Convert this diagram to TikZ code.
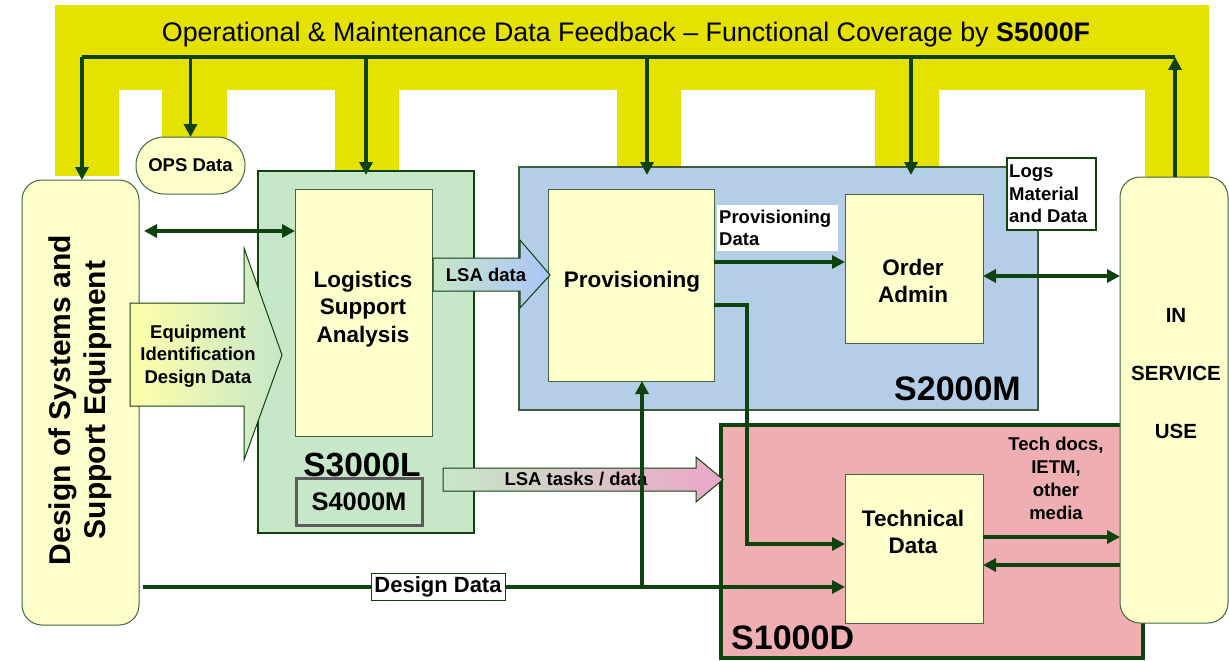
\documentclass[tikz,border=0pt]{standalone}
\usepackage{fontspec}
\setmainfont{Liberation Sans}
\usetikzlibrary{arrows.meta,calc}
\definecolor{band}{RGB}{229,225,0}
\definecolor{dg}{RGB}{14,66,14}
\definecolor{ltyel}{RGB}{255,255,204}
\definecolor{grn}{RGB}{198,231,200}
\definecolor{blu}{RGB}{181,206,232}
\definecolor{pnk}{RGB}{239,174,178}
\definecolor{arrblue}{RGB}{172,196,250}
\definecolor{arrpink}{RGB}{236,166,200}
\definecolor{yelhi}{RGB}{255,255,170}
\definecolor{boxgray}{RGB}{90,90,90}
\newcommand\fsz[2]{\fontsize{#1}{#2}\selectfont}
\begin{document}
\begin{tikzpicture}[x=1pt,y=-1pt,
  conn/.style={draw=dg, line width=3.5pt},
  arr/.style={conn, -{Triangle[length=13pt,width=13pt]}},
  darr/.style={conn, {Triangle[length=13pt,width=13pt]}-{Triangle[length=13pt,width=13pt]}},
  blk/.style={anchor=north west, inner sep=0pt, outer sep=0pt},
  ybox/.style={blk, draw=dg!80, line width=1pt, fill=ltyel},
  lbl/.style={font=\bfseries\fsz{18.5}{22.5}, align=center, inner sep=0pt},
  big/.style={font=\bfseries\fsz{22.5}{27.5}, align=center, inner sep=0pt},
  std/.style={font=\bfseries\fsz{34}{36}, inner sep=0pt}
]
\useasboundingbox (0,0) rectangle (1229,661);
% feedback band
\fill[band] (55,5) rectangle (1209,90);
\fill[band] (55,90) rectangle (119,176);
\fill[band] (162,90) rectangle (227,140);
\fill[band] (335,90) rectangle (399,172);
\fill[band] (617,90) rectangle (681,168);
\fill[band] (875,90) rectangle (939,168);
\fill[band] (1145,90) rectangle (1209,178);
\node[anchor=base, inner sep=0pt, font=\fsz{26.8}{30}] (title) at (626,42) {Operational \& Maintenance Data Feedback \textendash{} Functional Coverage by \textbf{S5000F}};

% boxes
\node[ybox, rounded corners=20pt, minimum width=117pt, minimum height=445pt] (design) at (22,180) {};
\node[rotate=90, align=center, inner sep=0pt, font=\bfseries\fsz{30}{35}] (designtxt) at (80,400) {Design of Systems and\\Support Equipment};
\node[ybox, rounded corners=28pt, minimum width=109pt, minimum height=57pt, font=\bfseries\fsz{18.5}{21}] (ops) at (136,137) {OPS Data};

\node[blk, draw=dg, line width=2pt, fill=grn, minimum width=216pt, minimum height=362pt] (s3000l) at (258,171) {};
\node[ybox, minimum width=137pt, minimum height=247pt] (lsa) at (295,189) {};
\node[big] (lsatxt) at (363,309) {Logistics\\Support\\Analysis};
\node[std, anchor=base, font=\bfseries\fsz{33.5}{36}] (s3000ltxt) at (362,476) {S3000L};
\node[blk, draw=boxgray, line width=3pt, minimum width=126pt, minimum height=47pt, font=\bfseries\fsz{25.5}{30}] (s4000m) at (296,478) {S4000M};

\node[blk, draw=dg!60!gray, line width=1.2pt, fill=blu, minimum width=519pt, minimum height=243pt] (s2000m) at (519,167) {};
\node[std, anchor=base east] (s2000mtxt) at (1021,400) {S2000M};
\node[ybox, minimum width=166pt, minimum height=192pt] (prov) at (548,189) {};
\node[big] (provtxt) at (632,282) {Provisioning};
\node[ybox, minimum width=138pt, minimum height=149pt] (order) at (845,194) {};
\node[big] (ordertxt) at (913,281) {Order\\Admin};
\node[blk, fill=white, minimum width=121pt, minimum height=46pt] (provdata) at (717,205) {};
\node[lbl, align=left, anchor=west] (provdatatxt) at (719,228) {Provisioning\\Data};
\node[blk, fill=white, draw=dg, line width=1.5pt, minimum width=89pt, minimum height=72pt] (logs) at (1007,158) {};
\node[lbl, align=left, anchor=west] (logstxt) at (1009,194) {Logs\\Material\\and Data};

\node[blk, draw=dg, line width=3.5pt, fill=pnk, minimum width=422pt, minimum height=233pt] (s1000d) at (721,425) {};
\node[std, anchor=base west] (s1000dtxt) at (731,649) {S1000D};
\node[ybox, minimum width=138pt, minimum height=149pt] (tech) at (845,474) {};
\node[big] (techtxt) at (913,532) {Technical\\Data};
\node[lbl, font=\bfseries\fsz{18.5}{23}] (mediatxt) at (1056,478) {Tech docs,\\IETM,\\other\\media};

\node[ybox, rounded corners=20pt, minimum width=108pt, minimum height=446pt] (insvc) at (1120,177) {};
\node[big, font=\bfseries\fsz{20.5}{58}] (insvctxt) at (1176,374) {IN\\SERVICE\\USE};

% block arrows
\shadedraw[draw=dg, line width=1pt, left color=yelhi, right color=grn]
  (130,303) -- (244,303) -- (244,248) -- (282,355) -- (244,460) -- (244,406) -- (130,406) -- cycle;
\node[lbl] (eqtxt) at (198,356) {Equipment\\Identification\\Design Data};
\shadedraw[draw=dg, line width=1pt, left color=grn, right color=arrblue]
  (433,258) -- (520,258) -- (520,240) -- (550,275) -- (520,308) -- (520,291) -- (433,291) -- cycle;
\node[lbl] (lsadatatxt) at (486,275) {LSA data};
\shadedraw[draw=dg, line width=1pt, left color=grn, right color=arrpink]
  (443,468) -- (696,468) -- (696,457) -- (723,479.5) -- (696,502) -- (696,491) -- (443,491) -- cycle;
\node[lbl] (lsatasktxt) at (576,479) {LSA tasks / data};

% feedback bus
\coordinate (busL) at (82,57);
\coordinate (busR) at (1175,57);
\coordinate (f4) at (647,57);
\coordinate (f5) at (911,57);
\draw[conn] (busL) -- (busR);
\draw[arr] (busL) -- (busL |- design.north);
\draw[arr] (busL -| ops.north) -- (ops.north);
\draw[arr] (busL -| s3000l.north) -- ($(s3000l.north)+(0,4)$);
\draw[arr] (f4) -- ($(f4 |- s2000m.north)+(0,8)$);
\draw[arr] (f5) -- ($(f5 |- s2000m.north)+(0,8)$);
\draw[arr] (insvc.north -| busR) -- (busR);

% data connectors
\draw[darr] ($(design.east |- 0,231)+(5,0)$) -- (lsa.west |- 0,231);
\draw[arr] (prov.east |- 0,262) -- (order.west |- 0,262);
\draw[darr] (order.east |- 0,276) -- (insvc.west |- 0,276);
\draw[arr] (prov.east |- 0,305) -- (747,305) -- (747,544) -- (tech.west |- 0,544);
\draw[arr] ($(design.east |- 0,587)+(4,0)$) -- (tech.west |- 0,587);
\draw[arr] (642,587) -- (prov.south -| 642,0);
\draw[arr] (tech.east |- 0,537) -- (insvc.west |- 0,537);
\draw[arr] (insvc.west |- 0,565) -- (tech.east |- 0,565);
\node[draw=dg, line width=1pt, fill=white, font=\bfseries\fsz{22}{26}, inner sep=0pt, minimum width=134pt, minimum height=27pt] (ddlabel) at (438,586.5) {Design Data};
\end{tikzpicture}
\end{document}
